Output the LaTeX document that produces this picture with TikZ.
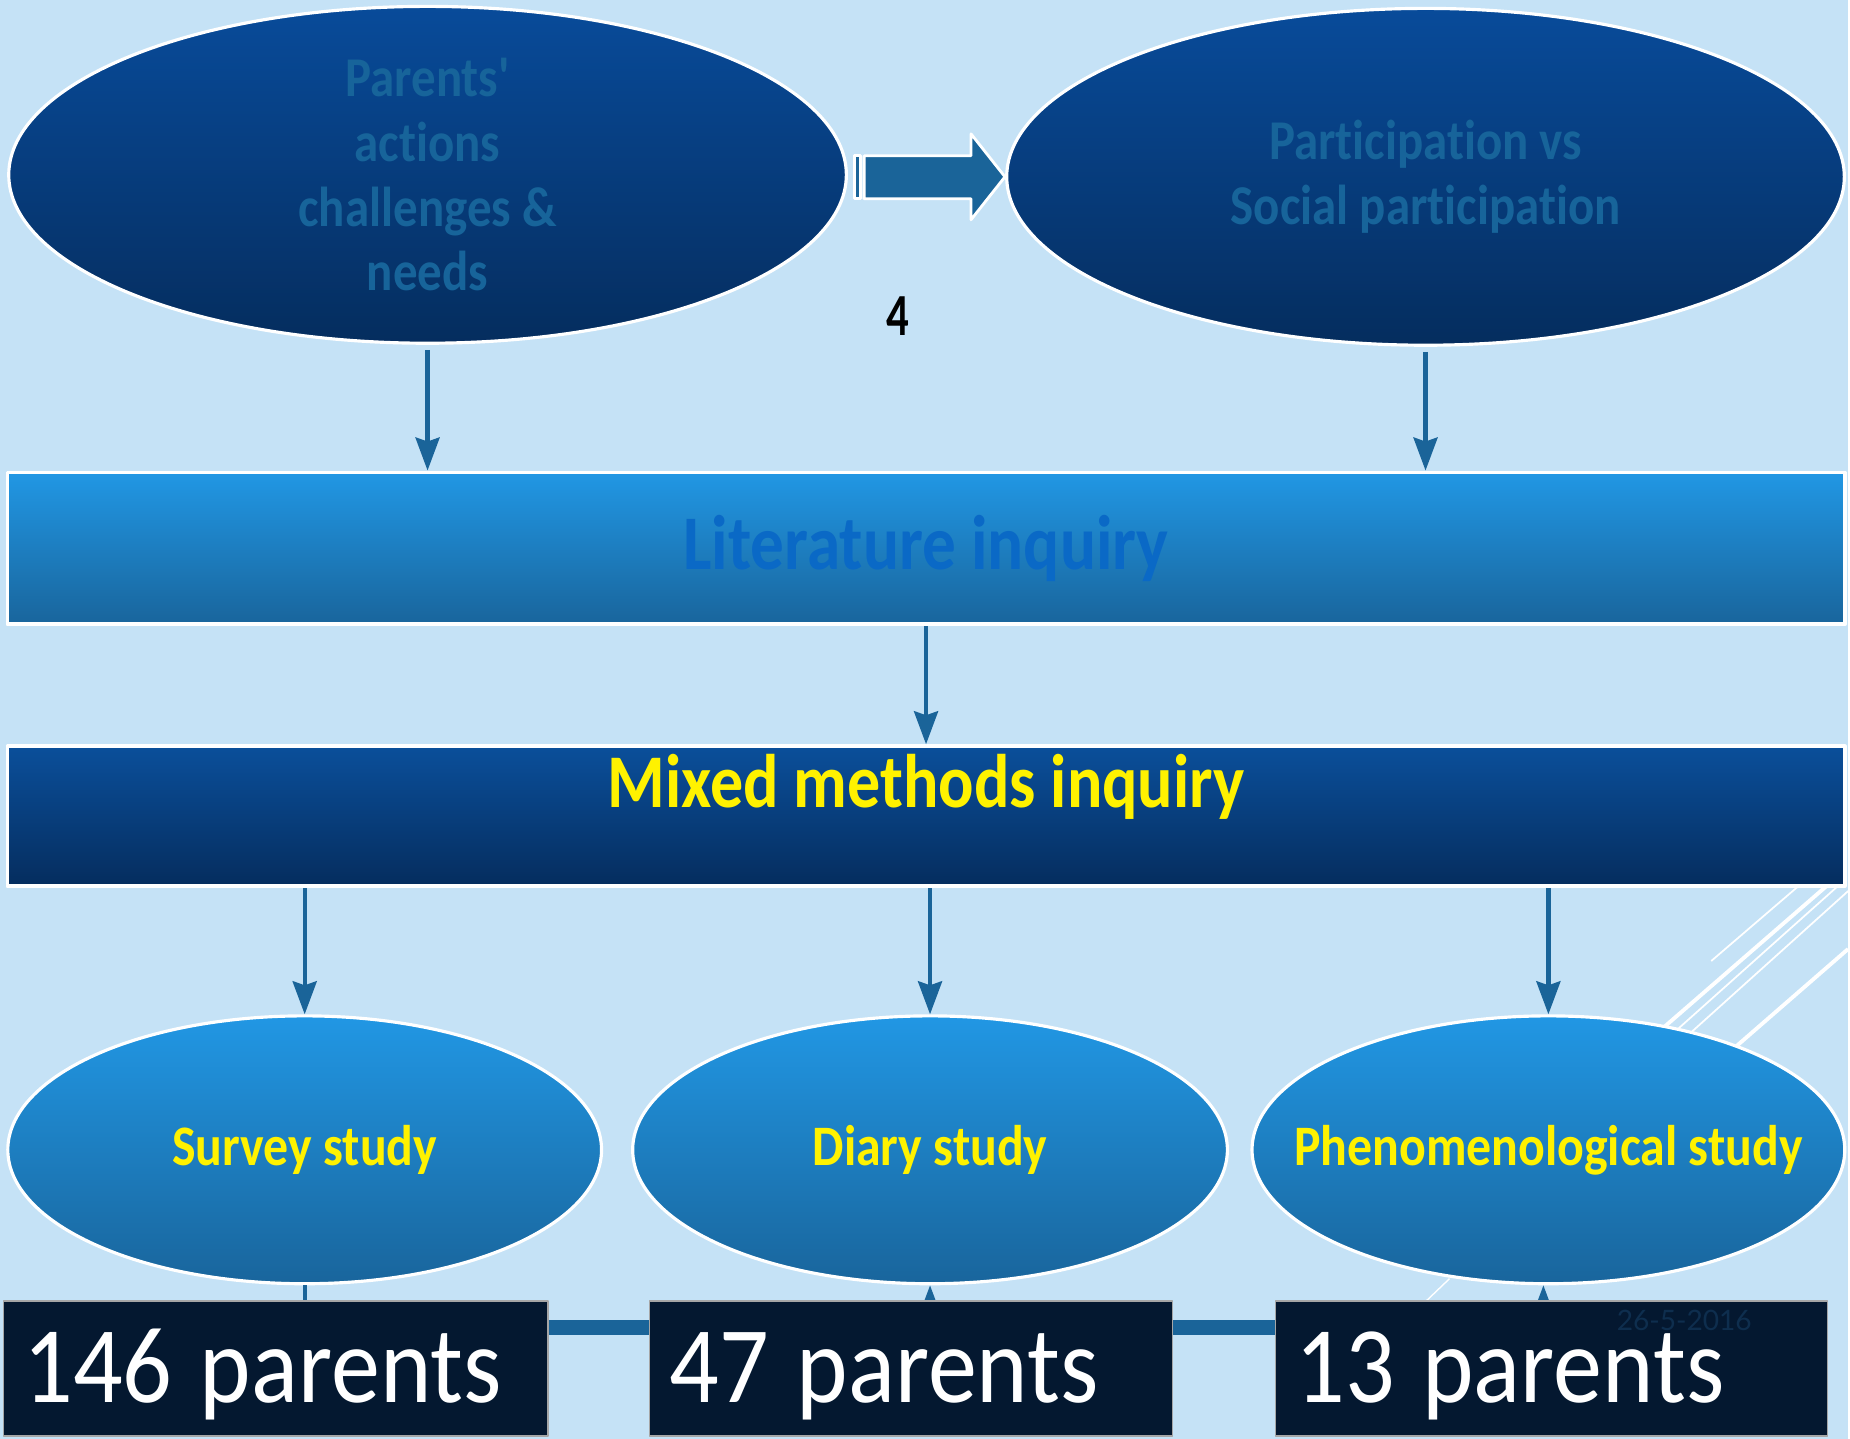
\documentclass[tikz,border=0pt]{standalone}
\usepackage{fontspec}
\setmainfont{Carlito}
\newfontfamily\slidefont[FakeStretch=0.87,Ligatures=NoCommon]{Carlito}
\newfontfamily\countfont[FakeStretch=0.9]{Carlito}
\newfontfamily\numfont[FakeStretch=0.75]{Carlito}
\newfontfamily\datefont{Lato}
\usetikzlibrary{shapes.geometric,arrows.meta,positioning}
\definecolor{bgblue}{HTML}{C5E2F6}
\definecolor{linkblue}{HTML}{1A6499}
\definecolor{deeptop}{HTML}{084B9A}
\definecolor{deepbot}{HTML}{052D5E}
\definecolor{lighttop}{HTML}{2197E4}
\definecolor{lightbot}{HTML}{19659C}
\definecolor{dimtext}{HTML}{17649A}
\definecolor{littext}{HTML}{0A69C6}
\definecolor{countfill}{HTML}{041830}
\definecolor{datetext}{HTML}{0E2E4E}
\begin{document}
\begin{tikzpicture}[x=0.01cm,y=-0.01cm, line join=round, >={Stealth[length=0.33cm,width=0.24cm,inset=0.04cm]},
  topell/.style={ellipse, draw=white, line width=0.9pt, top color=deeptop, bottom color=deepbot,
    minimum width=8.38cm, minimum height=3.37cm, inner sep=0pt, align=center, text=dimtext,
    font=\slidefont\bfseries\fontsize{16}{18.4}\selectfont},
  widebox/.style={rectangle, draw=white, line width=1.1pt, minimum width=18.38cm, inner sep=0pt},
  studyell/.style={ellipse, draw=white, line width=0.9pt, top color=lighttop, bottom color=lightbot,
    minimum height=2.68cm, inner sep=0pt, text=yellow, font=\slidefont\bfseries\fontsize{16.3}{20}\selectfont},
  countbox/.style={rectangle, draw=gray!70, line width=0.4pt, fill=countfill, text=white, minimum height=1.35cm,
    inner xsep=0.2cm, inner ysep=0pt, text width=#1, align=left, text height=0.68cm, text depth=0pt,
    font=\countfont\fontsize{31}{34}\selectfont},
  link/.style={draw=linkblue, line width=1.2pt},
  bar/.style={draw=linkblue, line width=4.3pt}]
\fill[bgblue] (0,0) rectangle (1850,1440);
% white strokes behind the lower right
\draw[white, line width=0.5pt] (1713,962)--(1805,883);
\draw[white, line width=1.1pt] (1560,1120)--(1833,883);
\draw[white, line width=0.5pt] (1570,1128)--(1842,885);
\draw[white, line width=0.5pt] (1580,1135)--(1850,892);
\draw[white, line width=1.1pt] (1620,1150)--(1850,950);
\draw[white, line width=0.4pt] (1451,1280)--(1428,1302);
\node[topell] (pa) at (428,175) {Parents'\\actions\\challenges \&\\needs};
\node[topell] (pb) at (1427,177) {Participation vs\\Social participation};
\fill[linkblue, draw=white, line width=0.8pt] (855,156) rectangle (861,199);
\fill[linkblue, draw=white, line width=0.8pt] (865,156)--(972,156)--(972,134)--(1006,177)--(972,220)--(972,199)--(865,199)--cycle;
\node[font=\numfont\bfseries\fontsize{17}{20}\selectfont] (num) at (899,316) {4};
\node[widebox, top color=lighttop, bottom color=lightbot, minimum height=1.52cm, text=littext,
  font=\slidefont\bfseries\fontsize{22}{26}\selectfont] (lit) at (927,549) {Literature inquiry};
\node[widebox, top color=deeptop!85!lightbot, bottom color=deepbot, minimum height=1.40cm, text=yellow,
  text height=0.5cm, text depth=0.68cm, font=\slidefont\bfseries\fontsize{21.6}{26}\selectfont] (mix) at (927,817) {Mixed methods inquiry};
\draw[link,->] ([yshift=-0.05cm]pa.south) -- (pa.south |- lit.north);
\draw[link,->] ([yshift=-0.05cm]pb.south) -- (pb.south |- lit.north);
\draw[link,->] (lit.south) -- (mix.north);
\node[studyell, minimum width=5.94cm] (s1) at (305,1151) {\makebox[0pt]{Survey study}};
\node[studyell, minimum width=5.95cm] (s2) at (931,1151) {\makebox[0pt]{Diary study}};
\node[studyell, minimum width=5.93cm] (s3) at (1550,1151) {\makebox[0pt]{Phenomenological study}};
\draw[link,->] (mix.south -| s1.north) -- (s1.north);
\draw[link,->] (mix.south -| s2.north) -- (s2.north);
\draw[link,->] (mix.south -| s3.north) -- (s3.north);
\draw[link] (s1.south) -- ++(0,20);
\draw[link,<-] (s2.south) -- ++(0,20);
\draw[link,<-] ([xshift=-0.05cm]s3.south) -- ++(0,20);
\node[countbox=5.05cm, minimum width=5.45cm] (c1) at (276,1370) {\mbox{146 \kern-0.08em parents}};
\node[countbox=4.83cm, minimum width=5.23cm] (c2) at (912,1370) {\mbox{47 \kern-0.08em parents}};
\node[countbox=5.12cm, minimum width=5.52cm] (c3) at (1553,1370) {\mbox{13 \kern-0.08em parents}};
\draw[bar] ([yshift=0.41cm]c1.east) -- ([yshift=0.41cm]c2.west);
\draw[bar] ([yshift=0.41cm]c2.east) -- ([yshift=0.41cm]c3.west);
\node[text=datetext, font=\datefont\fontsize{8}{10}\selectfont] (date) at (1686,1322) {26-5-2016};
\end{tikzpicture}
\end{document}
